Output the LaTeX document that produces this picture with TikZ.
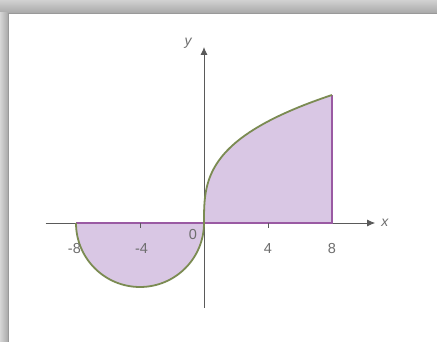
\documentclass[tikz,border=0pt]{standalone}
\usepackage{fontspec}
\setmainfont{Liberation Sans}
\usetikzlibrary{arrows.meta}
\definecolor{fillpurple}{HTML}{D9C7E4}
\definecolor{edgepurple}{HTML}{9A5AA3}
\definecolor{curvegreen}{HTML}{7B8B52}
\definecolor{axisgrey}{HTML}{5A5A5A}
\definecolor{labelgrey}{HTML}{6E6E6E}
\tikzset{
  axisline/.style={draw=axisgrey, line width=0.9pt, -{Latex[length=8pt,width=7pt]}},
  boundline/.style={draw=edgepurple, line width=1.8pt},
  curveline/.style={draw=curvegreen, line width=1.8pt},
  ticklabel/.style={text=labelgrey, font=\fontsize{14.5}{14.5}\selectfont, inner sep=0pt},
  axislabel/.style={text=labelgrey, font=\fontsize{14}{14}\itshape\selectfont, inner sep=0pt},
  tickmark/.style={draw=axisgrey, line width=0.7pt}
}
\begin{document}
\begin{tikzpicture}[x=1pt,y=1pt]
\useasboundingbox (0,0) rectangle (437,342);
\fill[white] (0,0) rectangle (437,342);
% frame bands
\shade[top color=white!82!black, bottom color=white!66!black] (0,329) rectangle (437,342);
\shade[left color=white!84!black, right color=white!66!black] (0,0) rectangle (8,329);
\draw[white!60!black, line width=0.6pt] (8,0) -- (8,329) -- (437,329);
\begin{scope}[shift={(204,119)}, x=16pt, y=16pt]
  % region
  \fill[fillpurple] (-8,0) arc[start angle=180, end angle=360, radius=4]
     -- plot[domain=0:2, samples=80, smooth] ({\x*\x*\x},{4*\x}) -- (8,0) -- cycle;
  % axes
  \coordinate (xs) at (-9.9,0);
  \coordinate (xe) at (10.7,0);
  \coordinate (ys) at (0,-5.3);
  \coordinate (ye) at (0,11.0);
  \draw[axisline] (xs) -- (xe);
  \draw[axisline] (ys) -- (ye);
  % boundary lines
  \coordinate (L) at (-8,0);
  \coordinate (R) at (8,0);
  \coordinate (T) at (8,8);
  \draw[boundline] (L) -- (R) -- (T);
  % ticks
  \draw[tickmark] (-4,0) -- (-4,-0.3);
  \draw[tickmark] (4,0) -- (4,-0.3);
  % curve
  \draw[curveline] (-8,0) arc[start angle=180, end angle=360, radius=4]
     -- plot[domain=0:2, samples=80, smooth] ({\x*\x*\x},{4*\x});
  % labels
  \node[ticklabel] (lm8) at (-8.1,-1.6) {-8};
  \node[ticklabel] (lm4) at (-3.9,-1.6) {-4};
  \node[ticklabel] (l0) at (-0.7,-0.7) {0};
  \node[ticklabel] (l4) at (4,-1.6) {4};
  \node[ticklabel] (l8) at (8,-1.6) {8};
  \node[axislabel] (lx) at (11.3,0) {x};
  \node[axislabel] (ly) at (-1.0,11.25) {y};
\end{scope}
\end{tikzpicture}
\end{document}
